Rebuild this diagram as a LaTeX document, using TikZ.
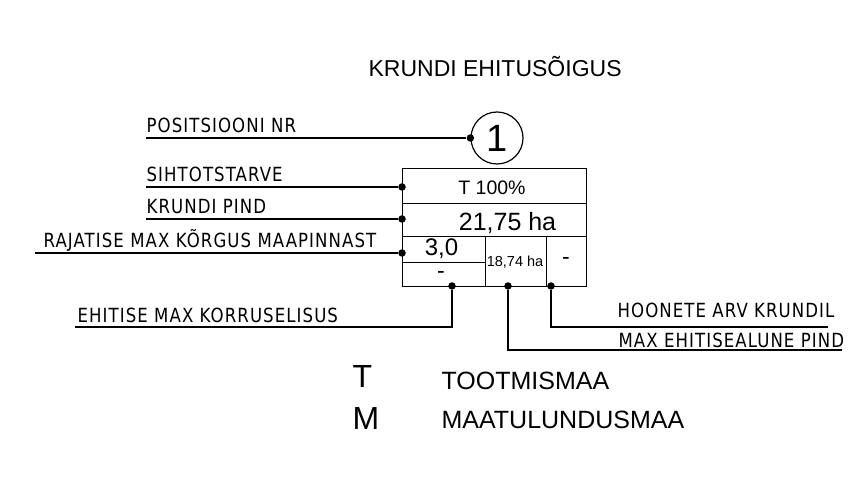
\documentclass[tikz,border=0pt]{standalone}
\usepackage{fontspec}
\setmainfont{Liberation Sans}
\newfontfamily\cadfont{DejaVu Sans}[FakeStretch=0.85,LetterSpace=5.5]
\usetikzlibrary{positioning,calc}

\begin{document}
\begin{tikzpicture}[
  x=1pt, y=1pt,
  line width=1.2pt,
  cell/.style={draw,inner sep=0,anchor=north west},
  val/.style={inner sep=0,anchor=base},
  lbl/.style={font=\cadfont\fontsize{19.5}{21}\selectfont,inner sep=0,anchor=base west},
  dot/.style={circle,fill,inner sep=0,minimum size=7.5pt},
  lead/.style={line width=1.1pt}
]
  \useasboundingbox (0,0) rectangle (858,495);

  % title
  \node[val, anchor=base west, font=\fontsize{23}{25}\selectfont] (title) at (368,418) {KRUNDI EHITUSÕIGUS};

  % position number
  \node[draw, circle, minimum size=52pt, inner sep=0, font=\fontsize{38}{40}\selectfont] (pos) at (497,357) {1};

  % table cells
  \node[cell, minimum width=184pt, minimum height=35pt] (use) at (402,327) {};
  \node[cell, minimum width=184pt, minimum height=33pt] (area) at (402,292) {};
  \node[cell, minimum width=83pt, minimum height=26pt] (hgt) at (402,259) {};
  \node[cell, minimum width=83pt, minimum height=24pt] (flr) at (402,233) {};
  \node[cell, minimum width=61pt, minimum height=50pt] (ftp) at (485,259) {};
  \node[cell, minimum width=40pt, minimum height=50pt] (cnt) at (546,259) {};

  % cell values
  \node[val, font=\fontsize{19.5}{21}\selectfont] (vUse) at (492,300) {T 100\%};
  \node[val, font=\fontsize{25}{27}\selectfont] (vArea) at (507.5,264) {21,75 ha};
  \node[val, font=\fontsize{24}{26}\selectfont] (vHgt) at (441.5,239) {3,0};
  \node[val, font=\fontsize{23}{25}\selectfont] (vFlr) at (441,216) {-};
  \node[val, font=\fontsize{14.5}{16}\selectfont] (vFtp) at (515,228) {18,74 ha};
  \node[val, font=\fontsize{23}{25}\selectfont] (vCnt) at (566,230) {-};

  % dots
  \node[dot] (dPos) at (pos.west) {};
  \node[dot] (dUse) at (402,308) {};
  \node[dot] (dArea) at (402,276) {};
  \node[dot] (dHgt) at (402,242) {};
  \node[dot] (dFlr) at (452,209) {};
  \node[dot] (dFtp) at (508,209) {};
  \node[dot] (dCnt) at (551,209) {};

  % free ends of leaders
  \coordinate (ePos) at (146,357);
  \coordinate (eUse) at (146,308);
  \coordinate (eArea) at (146,276);
  \coordinate (eHgt) at (35,242);
  \coordinate (eFlr) at (75,168);
  \coordinate (eFtp) at (842,145);
  \coordinate (eCnt) at (828,168);

  % leader texts
  \node[lbl] (tPos) at (146,362) {POSITSIOONI NR};
  \node[lbl] (tUse) at (146,313) {SIHTOTSTARVE};
  \node[lbl] (tArea) at (146,281) {KRUNDI PIND};
  \node[lbl] (tHgt) at (43,247) {RAJATISE MAX KÕRGUS MAAPINNAST};
  \node[lbl] (tFlr) at (77,172) {EHITISE MAX KORRUSELISUS};
  \node[lbl] (tCnt) at (617,177) {HOONETE ARV KRUNDIL};
  \node[lbl] (tFtp) at (618,147) {MAX EHITISEALUNE PIND};

  % leaders
  \draw[lead] (ePos) -- (dPos);
  \draw[lead] (eUse) -- (dUse);
  \draw[lead] (eArea) -- (dArea);
  \draw[lead] (eHgt) -- (dHgt);
  \draw[lead] (dFlr) |- (eFlr);
  \draw[lead] (dFtp) |- (eFtp);
  \draw[lead] (dCnt) |- (eCnt);

  % legend
  \node[val, anchor=base west, font=\fontsize{32}{34}\selectfont] (kT) at (352,107) {T};
  \node[val, anchor=base west, font=\fontsize{32}{34}\selectfont] (kM) at (352,66) {M};
  \node[val, anchor=base west, font=\fontsize{25}{27}\selectfont] (nT) at (441,106) {TOOTMISMAA};
  \node[val, anchor=base west, font=\fontsize{25}{27}\selectfont] (nM) at (441,67) {MAATULUNDUSMAA};
\end{tikzpicture}
\end{document}
